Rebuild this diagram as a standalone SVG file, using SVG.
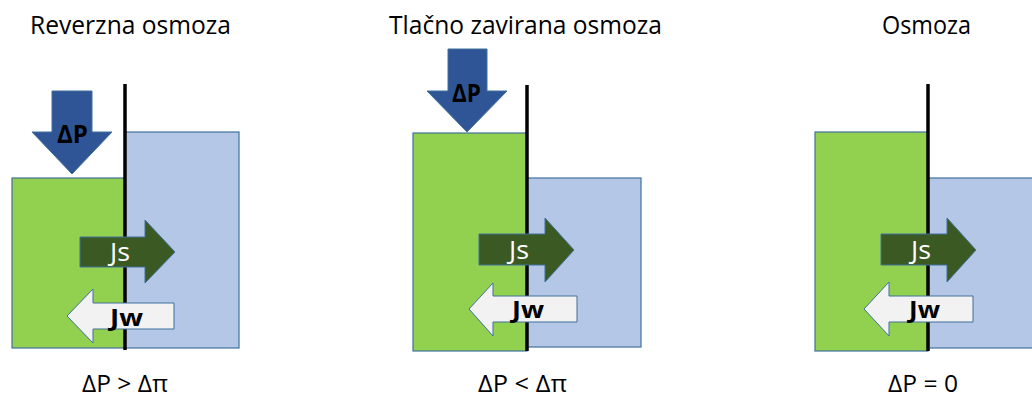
<svg xmlns="http://www.w3.org/2000/svg" width="1032" height="399" viewBox="0 0 1032 399">
  <style>
    .title { font-family: "Open Sans", "Liberation Sans", sans-serif; font-size: 26px; fill: #000; }
    .cond { font-family: "Open Sans", "Liberation Sans", sans-serif; font-size: 23px; fill: #000; }
    .feed { fill: #92D050; stroke: #41719C; stroke-width: 1.2; }
    .perm { fill: #B4C7E7; stroke: #41719C; stroke-width: 1.2; }
    .membrane { stroke: #000; stroke-width: 3.5; }
    .press { fill: #2F5597; stroke: #41719C; stroke-width: 1; }
    .js { fill: #3B5A23; stroke: #41719C; stroke-width: 1; }
    .jw { fill: #F2F2F2; stroke: #41719C; stroke-width: 1; }
    .lbl-p { font-family: "Open Sans", "Liberation Sans", sans-serif; font-size: 25px; font-weight: bold; fill: #000; }
    .lbl-b { font-family: "Open Sans", "Liberation Sans", sans-serif; font-size: 23px; font-weight: bold; fill: #000; }
    .lbl-w { font-family: "Open Sans", "Liberation Sans", sans-serif; font-size: 26px; fill: #fff; }
  </style>

  <!-- Panel 1: reverse osmosis -->
  <g id="reverse-osmosis">
    <text class="title" x="30" y="34" textLength="201" lengthAdjust="spacingAndGlyphs">Reverzna osmoza</text>
    <rect class="perm" x="125" y="132" width="114" height="216"/>
    <rect class="feed" x="12" y="178" width="113" height="170"/>
    <line class="membrane" x1="125" y1="84" x2="125" y2="350"/>
    <polygon class="press" points="52,91 92,91 92,132 112,132 72,174 32,132 52,132"/>
    <text class="lbl-p" x="57" y="143" textLength="31" lengthAdjust="spacingAndGlyphs">ΔP</text>
    <polygon class="js" points="80,237 145,237 145,220 175,252 145,283 145,267 80,267"/>
    <text class="lbl-w" x="110" y="261" textLength="20" lengthAdjust="spacingAndGlyphs">Js</text>
    <polygon class="jw" points="174,303 93,303 93,289 67,316 93,343 93,329 174,329"/>
    <text class="lbl-b" x="110" y="326" textLength="33" lengthAdjust="spacingAndGlyphs">Jw</text>
    <text class="cond" x="82" y="392" textLength="86" lengthAdjust="spacingAndGlyphs">ΔP &gt; Δπ</text>
  </g>

  <!-- Panel 2: pressure retarded osmosis -->
  <g id="pressure-retarded-osmosis">
    <text class="title" x="389" y="34" textLength="273" lengthAdjust="spacingAndGlyphs">Tlačno zavirana osmoza</text>
    <rect class="perm" x="527" y="178" width="114" height="169"/>
    <rect class="feed" x="413" y="133" width="114" height="218"/>
    <line class="membrane" x1="527" y1="85" x2="527" y2="351"/>
    <polygon class="press" points="448,49 487,49 487,91 507,91 467,132 427,91 448,91"/>
    <text class="lbl-p" x="452" y="102" textLength="29" lengthAdjust="spacingAndGlyphs">ΔP</text>
    <polygon class="js" points="479,234 545,234 545,218 574,250 545,282 545,265 479,265"/>
    <text class="lbl-w" x="509" y="259" textLength="20" lengthAdjust="spacingAndGlyphs">Js</text>
    <polygon class="jw" points="577,296 493,296 493,283 469,309 493,336 493,322 577,322"/>
    <text class="lbl-b" x="512" y="318" textLength="32" lengthAdjust="spacingAndGlyphs">Jw</text>
    <text class="cond" x="478" y="392" textLength="89" lengthAdjust="spacingAndGlyphs">ΔP &lt; Δπ</text>
  </g>

  <!-- Panel 3: osmosis -->
  <g id="osmosis">
    <text class="title" x="882" y="34" textLength="89" lengthAdjust="spacingAndGlyphs">Osmoza</text>
    <rect class="perm" x="928" y="178" width="114" height="170"/>
    <rect class="feed" x="815" y="132" width="113" height="219"/>
    <line class="membrane" x1="928" y1="84" x2="928" y2="351"/>
    <polygon class="js" points="881,234 947,234 947,218 976,250 947,282 947,265 881,265"/>
    <text class="lbl-w" x="911" y="259" textLength="20" lengthAdjust="spacingAndGlyphs">Js</text>
    <polygon class="jw" points="973,296 889,296 889,282 864,309 889,336 889,322 973,322"/>
    <text class="lbl-b" x="909" y="318" textLength="31" lengthAdjust="spacingAndGlyphs">Jw</text>
    <text class="cond" x="888" y="392" textLength="70" lengthAdjust="spacingAndGlyphs">ΔP = 0</text>
  </g>
</svg>
